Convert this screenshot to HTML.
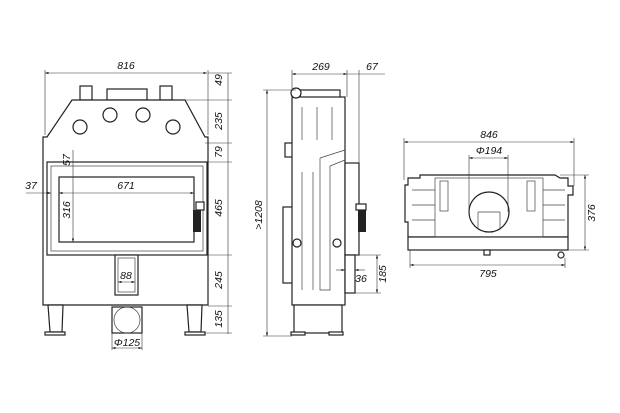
<!DOCTYPE html>
<html><head><meta charset="utf-8"><style>
html,body{margin:0;padding:0;background:#fff}
svg{display:block}
text{font-family:"Liberation Sans",sans-serif;font-style:italic;font-size:10.5px;fill:#111}
.o{fill:#fff;stroke:#222;stroke-width:1.2}
.t{fill:none;stroke:#444;stroke-width:0.7}
.d{fill:none;stroke:#333;stroke-width:0.6}
</style></head><body>
<svg width="620" height="413" viewBox="0 0 620 413" xmlns="http://www.w3.org/2000/svg">
<defs><marker id="a" markerWidth="6" markerHeight="4" refX="6" refY="2" orient="auto-start-reverse"><path d="M0,0L6,2L0,4z" fill="#222"/></marker></defs>

<!-- FRONT VIEW -->
<g>
<rect class="o" x="80" y="86" width="12" height="14"/><rect class="o" x="160" y="86" width="12" height="14"/>
<rect class="o" x="107" y="89" width="40" height="11"/>
<path class="o" d="M72,100 L185,100 L205,137 L208,137 L208,305 L43,305 L43,137 L47,137 Z"/>
<circle class="o" cx="80" cy="127" r="7"/><circle class="o" cx="110" cy="115" r="7"/>
<circle class="o" cx="143" cy="115" r="7"/><circle class="o" cx="173" cy="127" r="7"/>
<rect class="o" x="47" y="162" width="160" height="93"/>
<rect class="t" x="51" y="166" width="152" height="85"/>
<rect class="o" x="59" y="177" width="135" height="65"/>
<rect x="193" y="210" width="8" height="22" fill="#222"/><rect class="o" x="196" y="202" width="8" height="8"/>
<rect class="o" x="115" y="255" width="23" height="40"/><rect class="t" x="118" y="258" width="17" height="34"/>
<path class="o" d="M48,305 L63,305 L62,332 L50,332 Z"/><rect class="o" x="45" y="332" width="20" height="3"/>
<path class="o" d="M187,305 L202,305 L201,332 L189,332 Z"/><rect class="o" x="185" y="332" width="20" height="3"/>
<rect class="o" x="112" y="307" width="30" height="26"/><circle class="t" cx="127" cy="320" r="13"/>
<line class="d" x1="45" y1="73" x2="207" y2="73" marker-start="url(#a)" marker-end="url(#a)"/>
<line class="d" x1="45" y1="70" x2="45" y2="135"/><line class="d" x1="208" y1="70" x2="208" y2="135"/>
<text x="126" y="69" text-anchor="middle">816</text>
<line class="d" x1="228" y1="73" x2="228" y2="334"/>
<g class="d"><line x1="208" y1="73" x2="232" y2="73"/><line x1="175" y1="100" x2="232" y2="100"/><line x1="205" y1="143" x2="232" y2="143"/><line x1="208" y1="162" x2="232" y2="162"/><line x1="208" y1="255" x2="232" y2="255"/><line x1="208" y1="306" x2="232" y2="306"/><line x1="205" y1="333" x2="232" y2="333"/></g>
<text transform="translate(222,80) rotate(-90)" text-anchor="middle">49</text>
<text transform="translate(222,121) rotate(-90)" text-anchor="middle">235</text>
<text transform="translate(222,152) rotate(-90)" text-anchor="middle">79</text>
<text transform="translate(222,208) rotate(-90)" text-anchor="middle">465</text>
<text transform="translate(222,280) rotate(-90)" text-anchor="middle">245</text>
<text transform="translate(222,319) rotate(-90)" text-anchor="middle">135</text>
<line class="d" x1="26" y1="193" x2="47" y2="193"/><line class="d" x1="47" y1="193" x2="51" y2="193" marker-end="url(#a)"/>
<text x="31" y="189" text-anchor="middle">37</text>
<line class="d" x1="59" y1="193" x2="194" y2="193" marker-start="url(#a)" marker-end="url(#a)"/>
<text x="126" y="189" text-anchor="middle">671</text>
<line class="d" x1="73" y1="150" x2="73" y2="242" marker-end="url(#a)"/>
<text transform="translate(70,160) rotate(-90)" text-anchor="middle">57</text>
<text transform="translate(70,210) rotate(-90)" text-anchor="middle">316</text>
<line class="d" x1="118" y1="282" x2="135" y2="282" marker-start="url(#a)" marker-end="url(#a)"/>
<text x="126" y="279" text-anchor="middle">88</text>
<line class="d" x1="112" y1="333" x2="112" y2="350"/><line class="d" x1="142" y1="333" x2="142" y2="350"/>
<line class="d" x1="112" y1="348" x2="142" y2="348" marker-start="url(#a)" marker-end="url(#a)"/>
<text x="127" y="346" text-anchor="middle">Φ125</text>
</g>

<!-- SIDE VIEW -->
<g>
<rect class="o" x="285" y="143" width="8" height="14"/><rect class="o" x="283" y="207" width="10" height="76"/>
<rect class="o" x="300" y="90" width="40" height="8"/>
<rect class="o" x="292" y="97" width="53" height="208"/>
<circle class="o" cx="296" cy="93" r="5"/>
<rect class="o" x="345" y="163" width="14" height="92"/>
<rect x="358" y="208" width="8" height="24" fill="#222"/><rect class="o" x="356" y="204" width="10" height="6"/>
<rect class="o" x="345" y="255" width="10" height="38"/>
<g class="t"><line x1="302" y1="107" x2="302" y2="140"/><line x1="317" y1="107" x2="317" y2="140"/><line x1="332" y1="107" x2="332" y2="140"/>
<line x1="302" y1="172" x2="302" y2="290"/><line x1="313" y1="172" x2="313" y2="290"/>
<path d="M320,158 L345,150 M320,158 L320,290 L330,290 L330,166 L345,160"/></g>
<circle class="o" cx="297" cy="243" r="4"/><circle class="o" cx="337" cy="243" r="4"/>
<rect class="o" x="294" y="305" width="48" height="28"/>
<rect class="o" x="291" y="332" width="14" height="3"/><rect class="o" x="329" y="332" width="14" height="3"/>
<line class="d" x1="292" y1="74" x2="347" y2="74" marker-start="url(#a)" marker-end="url(#a)"/>
<line class="d" x1="347" y1="74" x2="385" y2="74"/>
<line class="d" x1="292" y1="70" x2="292" y2="90"/><line class="d" x1="347" y1="70" x2="347" y2="97"/><line class="d" x1="359" y1="70" x2="359" y2="163"/>
<text x="321" y="70" text-anchor="middle">269</text><text x="372" y="70" text-anchor="middle">67</text>
<line class="d" x1="267" y1="90" x2="267" y2="336" marker-start="url(#a)" marker-end="url(#a)"/>
<line class="d" x1="263" y1="90" x2="296" y2="90"/><line class="d" x1="263" y1="336" x2="292" y2="336"/>
<text transform="translate(262,215) rotate(-90)" text-anchor="middle">&gt;1208</text>
<line class="d" x1="377" y1="255" x2="377" y2="293" marker-start="url(#a)" marker-end="url(#a)"/>
<line class="d" x1="355" y1="255" x2="381" y2="255"/><line class="d" x1="355" y1="293" x2="381" y2="293"/>
<text transform="translate(386,274) rotate(-90)" text-anchor="middle">185</text>
<line class="d" x1="336" y1="270" x2="345" y2="270" marker-end="url(#a)"/><line class="d" x1="365" y1="270" x2="355" y2="270" marker-end="url(#a)"/>
<text x="361" y="282" text-anchor="middle">36</text>
</g>

<!-- TOP VIEW -->
<g>
<path class="o" d="M420,178 L420,175 L555,175 L560,178 L568,178 L568,186 L573,186 L573,195 L568,195 L568,237 L408,237 L408,222 L405,222 L405,185 L408,185 L408,178 Z"/>
<rect class="o" x="408" y="237" width="160" height="13"/>
<g class="t"><line x1="412" y1="190" x2="435" y2="190"/><line x1="412" y1="205" x2="435" y2="205"/><line x1="412" y1="220" x2="435" y2="220"/>
<line x1="543" y1="190" x2="565" y2="190"/><line x1="543" y1="205" x2="565" y2="205"/><line x1="543" y1="220" x2="565" y2="220"/>
<rect x="435" y="178" width="108" height="59"/><rect x="440" y="181" width="8" height="30"/><rect x="527" y="181" width="8" height="30"/></g>
<circle class="o" cx="489" cy="212" r="20"/>
<g class="t"><line x1="478" y1="212" x2="500" y2="212"/><line x1="478" y1="212" x2="478" y2="228"/><line x1="500" y1="212" x2="500" y2="228"/></g>
<circle class="o" cx="561" cy="255" r="3"/><rect class="o" x="484" y="250" width="6" height="5"/>
<line class="d" x1="404" y1="142" x2="574" y2="142" marker-start="url(#a)" marker-end="url(#a)"/>
<line class="d" x1="404" y1="138" x2="404" y2="180"/><line class="d" x1="574" y1="138" x2="574" y2="186"/>
<text x="489" y="138" text-anchor="middle">846</text>
<line class="d" x1="469" y1="158" x2="508" y2="158" marker-start="url(#a)" marker-end="url(#a)"/>
<line class="d" x1="469" y1="155" x2="469" y2="212"/><line class="d" x1="508" y1="155" x2="508" y2="212"/>
<text x="489" y="154" text-anchor="middle">Φ194</text>
<line class="d" x1="585" y1="175" x2="585" y2="250" marker-start="url(#a)" marker-end="url(#a)"/>
<line class="d" x1="560" y1="175" x2="589" y2="175"/><line class="d" x1="568" y1="250" x2="589" y2="250"/>
<text transform="translate(595,213) rotate(-90)" text-anchor="middle">376</text>
<line class="d" x1="410" y1="265" x2="565" y2="265" marker-start="url(#a)" marker-end="url(#a)"/>
<line class="d" x1="410" y1="250" x2="410" y2="268"/><line class="d" x1="565" y1="258" x2="565" y2="268"/>
<text x="488" y="277" text-anchor="middle">795</text>
</g>
</svg>
</body></html>
